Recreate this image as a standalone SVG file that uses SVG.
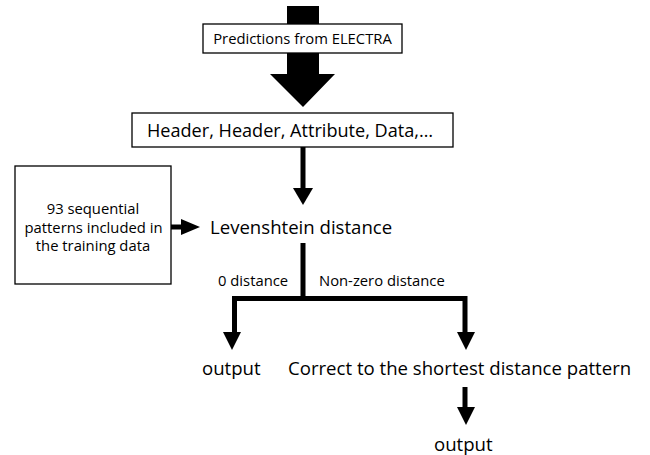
<svg xmlns="http://www.w3.org/2000/svg" width="650" height="455" viewBox="0 0 650 455">
<style>
.box{fill:#fff;stroke:#000;stroke-width:1.3}
.t{font-family:"Open Sans","Liberation Sans",sans-serif;fill:#000}
.s{font-size:14.8px}
.l{font-size:18.6px}
.hdr{font-size:18.1px}
.ln{stroke:#000;stroke-width:5;fill:none}
.hd{fill:#000}
</style>
<rect width="650" height="455" fill="#fff"/>
<g id="connectors">
<polygon class="hd" points="287,6 319,6 319,74 335,74 303,107 270,74 287,74"/>
<line class="ln" x1="303" y1="147" x2="303" y2="190"/>
<polygon class="hd" points="293,188 313,188 303,205"/>
<line class="ln" x1="171" y1="227" x2="183" y2="227"/>
<polygon class="hd" points="181,219 200,227 181,235"/>
<path class="ln" d="M303,243 V298.5 M232,298.5 H467.5 M234.5,296 V335 M465,296 V335"/>
<polygon class="hd" points="223,332 241,332 232,350"/>
<polygon class="hd" points="457,332 475,332 466,350"/>
<line class="ln" x1="465" y1="387" x2="465" y2="410"/>
<polygon class="hd" points="457,407 475,407 466,425"/>
</g>
<g id="predictions">
<rect class="box" x="203" y="24" width="199" height="29"/>
<text class="t s" x="302.5" y="44" text-anchor="middle">Predictions from ELECTRA</text>
</g>
<g id="sequence">
<rect class="box" x="132" y="113" width="321" height="34"/>
<text class="t hdr" x="290" y="136.5" text-anchor="middle">Header, Header, Attribute, Data,…</text>
</g>
<g id="patterns">
<rect class="box" x="15" y="166" width="156" height="118"/>
<text class="t s" x="93" y="214" text-anchor="middle">93 sequential</text>
<text class="t s" x="93.5" y="233" text-anchor="middle">patterns included in</text>
<text class="t s" x="93" y="251" text-anchor="middle">the training data</text>
</g>
<g id="levenshtein">
<text class="t l" x="210" y="234">Levenshtein distance</text>
</g>
<g id="labels">
<text class="t s" x="218" y="286">0 distance</text>
<text class="t s" x="319" y="286">Non-zero distance</text>
</g>
<g id="output1">
<text class="t l" x="202" y="375">output</text>
</g>
<g id="correct">
<text class="t l" x="288" y="375">Correct to the shortest distance pattern</text>
</g>
<g id="output2">
<text class="t l" x="434" y="451">output</text>
</g>
</svg>
